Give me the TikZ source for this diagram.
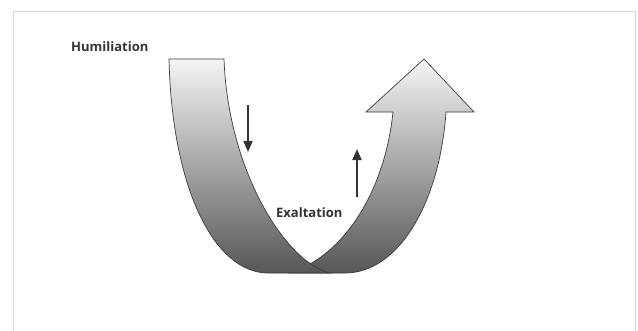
\documentclass[tikz,border=0pt]{standalone}
\usepackage{fontspec}
\setmainfont{Open Sans}
\usetikzlibrary{arrows.meta}
\definecolor{framegray}{HTML}{D9D5D0}
\definecolor{txtgray}{HTML}{333333}
\definecolor{edgegray}{HTML}{3C3C3C}
\tikzset{
  ribbon/.style={draw=edgegray, line width=0.7pt, line join=miter, top color=black!4, bottom color=black!66},
  motion/.style={draw=txtgray, line width=1.8pt, -{Triangle[length=11pt,width=9pt]}},
  label/.style={font=\bfseries\fontsize{13}{15}\selectfont, text=txtgray, inner sep=0pt}
}
\begin{document}
\begin{tikzpicture}[x=1pt,y=-1pt]
\useasboundingbox (0,0) rectangle (638,330);
\fill[white] (0,0) rectangle (638,330);
\draw[framegray, line width=1pt] (13,340) -- (13,11.5) -- (635.5,11.5) -- (635.5,340);
% right rising arrow (behind)
\path[ribbon] (290,273) .. controls (345,255) and (385,190) .. (393,112)
  -- (366,112) -- (424,59) -- (474,112) -- (446,112)
  .. controls (440,200) and (400,273) .. (345,273) -- cycle;
% left descending band (front)
\path[ribbon] (169,59) -- (224,59)
  .. controls (228,170) and (285,262) .. (330,273)
  -- (268,273) .. controls (215,273) and (172,190) .. (169,59) -- cycle;
\coordinate (d1) at (248,105);
\coordinate (d2) at (248,152);
\coordinate (u1) at (357,197);
\coordinate (u2) at (357,149);
\draw[motion] (d1) -- (d2);
\draw[motion] (u1) -- (u2);
\node[label, anchor=base west] (hum) at (71,51.7) {Humiliation};
\node[label, anchor=base west] (exa) at (276,217.3) {Exaltation};
\end{tikzpicture}
\end{document}
